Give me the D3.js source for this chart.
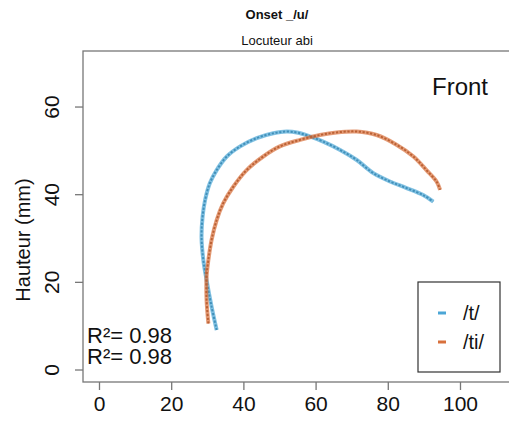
<!DOCTYPE html>
<html><head><meta charset="utf-8">
<script src="https://cdn.jsdelivr.net/npm/d3@7"></script>
<style>body{margin:0;background:#fff}svg{display:block}text{font-family:"Liberation Sans",Arial,sans-serif;fill:#111}</style>
</head><body><svg id="c" width="509" height="423"></svg>
<script>
// Data (x = front position, y = hauteur mm)
const tX  = [32.6,31.2,29.8,28.9,28.4,28.7,29.4,30.7,32.6,35.4,39.1,43.7,48.3,52.0,55.2,58.4,62.1,66.8,71.4,76.0,80.6,85.2,89.8,92.6];
const tY  = [9.0,14.3,20.4,25.0,30.3,34.9,38.7,42.5,45.5,48.6,50.9,52.8,53.9,54.3,54.0,53.2,52.0,50.1,47.8,44.8,42.9,41.4,39.8,38.3];
const tiX = [30.3,29.8,29.8,30.3,31.2,32.6,34.4,37.2,40.9,45.5,50.1,55.7,61.2,65.8,71.4,76.9,82.4,87.1,90.7,93.5,94.5];
const tiY = [10.5,15.9,21.2,25.0,29.6,34.1,37.9,41.7,45.5,48.6,50.9,52.4,53.5,54.1,54.3,53.5,51.3,48.6,45.5,42.9,41.0];
const seriesNames = ["/t/","/ti/"];
const seriesColors = ["#4ba6d6","#d8703c"];
const xTicks = [0,20,40,60,80,100];
const yTicks = [0,20,40,60];
const r2Labels = ["R²= 0.98","R²= 0.98"];

const svg = d3.select("#c");
const x = d3.scaleLinear().domain([-4.43,113.3]).range([83,508]);
const y = d3.scaleLinear().domain([-2.85,72.67]).range([382,51]);

// frame
svg.append("rect").attr("x",83).attr("y",51).attr("width",430).attr("height",331)
  .attr("fill","none").attr("stroke","#777").attr("stroke-width",1.3);

// x axis
const xa = svg.append("g").attr("transform","translate(0,382)")
  .call(d3.axisBottom(x).tickValues(xTicks).tickSize(8).tickPadding(6).tickSizeOuter(0));
xa.select(".domain").remove();
xa.selectAll("line").attr("stroke","#777").attr("stroke-width",1.3);
xa.selectAll("text").style("font-size","21px").attr("fill","#111");

// y axis
const ya = svg.append("g").attr("transform","translate(83,0)")
  .call(d3.axisLeft(y).tickValues(yTicks).tickSize(8).tickPadding(0).tickSizeOuter(0));
ya.select(".domain").remove();
ya.selectAll("line").attr("stroke","#777").attr("stroke-width",1.3);
ya.selectAll("text").attr("x",null).attr("y",null).attr("dy",null)
  .attr("text-anchor","middle").style("font-size","21px").attr("fill","#111")
  .attr("transform","translate(-24,0) rotate(-90)");

svg.append("text").attr("transform","translate(30,240) rotate(-90)")
  .attr("text-anchor","middle").style("font-size","20px").text("Hauteur (mm)");

// titles
svg.append("text").attr("x",277).attr("y",19).attr("text-anchor","middle")
  .style("font-size","13px").style("font-weight","bold").text("Onset _/u/");
svg.append("text").attr("x",277).attr("y",45).attr("text-anchor","middle")
  .style("font-size","13px").text("Locuteur abi");

svg.append("text").attr("x",432).attr("y",95).style("font-size","24px").text("Front");

// curves
const line = d3.line().x(d=>x(d[0])).y(d=>y(d[1])).curve(d3.curveCatmullRom);
const sets = [d3.zip(tX,tY), d3.zip(tiX,tiY)];
sets.forEach((pts,i)=>{
  svg.append("path").datum(pts).attr("d",line).attr("fill","none")
    .attr("stroke",seriesColors[i]).attr("stroke-width",4).attr("stroke-opacity",0.7);
  svg.append("path").datum(pts).attr("d",line).attr("fill","none")
    .attr("stroke",d3.color(seriesColors[i]).darker(0.4)).attr("stroke-width",2)
    .attr("stroke-dasharray","2.2,1.6");
});

// R2 labels
r2Labels.forEach((t,i)=>{
  svg.append("text").attr("x",87).attr("y",343+i*21).style("font-size","22px").text(t);
});

// legend
svg.append("rect").attr("x",418).attr("y",282).attr("width",82).attr("height",90)
  .attr("fill","#fff").attr("stroke","#333").attr("stroke-width",1.2);
seriesNames.forEach((n,i)=>{
  const yy = 313 + i*29;
  svg.append("line").attr("x1",438).attr("x2",446).attr("y1",yy).attr("y2",yy)
    .attr("stroke",seriesColors[i]).attr("stroke-width",3);
  svg.append("text").attr("x",463).attr("y",yy+7).style("font-size","20px").text(n);
});
</script></body></html>
